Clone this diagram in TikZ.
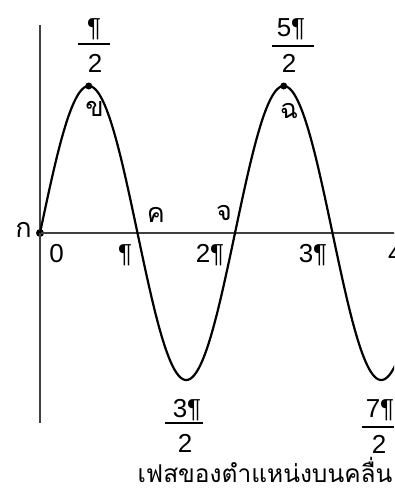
\documentclass[tikz,border=0pt]{standalone}
\usepackage{fontspec}
\setmainfont{Liberation Sans}
\newfontfamily\thaifont[Script=Thai]{Loma}
\begin{document}
\begin{tikzpicture}[x=1pt,y=-1pt,
  num/.style={font=\fontsize{26}{26}\selectfont, inner sep=0pt, anchor=base},
  thlab/.style={font=\thaifont\fontsize{27}{27}\selectfont, inner sep=0pt, anchor=base},
  caption/.style={font=\thaifont\fontsize{24.5}{24.5}\selectfont, inner sep=0pt, anchor=base},
  axis/.style={line width=1.3pt, black!75},
  wave/.style={line width=2.2pt, line join=round},
  fracbar/.style={line width=1.6pt},
  dotpt/.style={circle, fill, inner sep=0pt, minimum size=8pt}]
\useasboundingbox (0,0) rectangle (394,495);
\begin{scope}
\clip (0,0) rectangle (394,495);
% axes
\coordinate (ytop) at (40,25);
\coordinate (ybot) at (40,423);
\coordinate (xend) at (400,233);
\node[dotpt] (ka) at (40,233) {};
\draw[axis] (ytop) -- (ybot);
\draw[axis] (ka.center) -- (xend);
% wave
\draw[wave] plot[domain=0:3.66, samples=300] ({40+97.5*\x},{233-147*sin(180*\x)});
\node[dotpt, minimum size=7pt] (kho) at (88.75,86) {};
\node[dotpt, minimum size=7pt] (cho) at (283.75,86) {};
% point labels
\node[thlab] (lka) at (23.5,237) {ก};
\node[thlab] (lkho) at (94.5,116) {ข};
\node[thlab] (lkho2) at (156,222) {ค};
\node[thlab] (ljo) at (224,220) {จ};
\node[thlab] (lcho) at (289,118) {ฉ};
% axis numbers
\node[num] (n0) at (56.5,262) {0};
\node[num] (n1) at (125,262) {¶};
\node[num] (n2) at (210,262) {2¶};
\node[num] (n3) at (313,262) {3¶};
\node[num, anchor=base west] (n4) at (388,262) {4¶};
% fractions
\node[num] (f1n) at (94,37) {¶};
\coordinate (f1l) at (78,44); \coordinate (f1r) at (110,44);
\draw[fracbar] (f1l) -- (f1r);
\node[num] (f1d) at (95,72) {2};
\node[num] (f2n) at (291,37) {5¶};
\coordinate (f2l) at (272,46); \coordinate (f2r) at (314,46);
\draw[fracbar] (f2l) -- (f2r);
\node[num] (f2d) at (289,72) {2};
\node[num] (f3n) at (187,417) {3¶};
\coordinate (f3l) at (165,423); \coordinate (f3r) at (203,423);
\draw[fracbar] (f3l) -- (f3r);
\node[num] (f3d) at (185,452) {2};
\node[num] (f4n) at (380,417) {7¶};
\coordinate (f4l) at (362,427); \coordinate (f4r) at (394,427);
\draw[fracbar] (f4l) -- (f4r);
\node[num] (f4d) at (379,453) {2};
% caption
\node[caption] (cap) at (265,482) {เฟสของตำแหน่งบนคลื่น};
\end{scope}
\end{tikzpicture}
\end{document}
